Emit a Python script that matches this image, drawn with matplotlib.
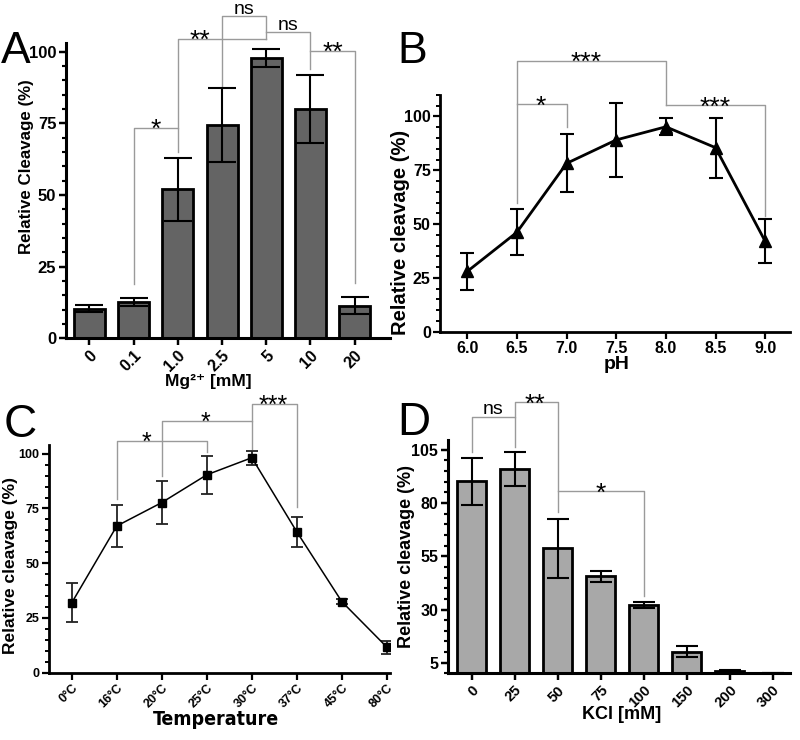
import numpy as np
import matplotlib
matplotlib.use('Agg')
import matplotlib.pyplot as plt
from matplotlib.ticker import MultipleLocator
from matplotlib import font_manager

# A: Mg2+ concentration
mg_labels = ['0', '0.1', '1.0', '2.5', '5', '10', '20']
mg_mean = [10.3, 12.7, 52.0, 74.5, 97.8, 80.0, 11.4]
mg_err = [1.2, 1.5, 11.0, 13.0, 3.2, 12.0, 3.0]

# B: pH
ph_values = [6.0, 6.5, 7.0, 7.5, 8.0, 8.5, 9.0]
ph_mean = [28.0, 46.2, 78.2, 89.1, 95.2, 85.5, 42.0]
ph_err = [8.6, 10.7, 13.5, 17.0, 4.0, 14.0, 10.3]

# C: temperature
temp_labels = ['0°C', '16°C', '20°C', '25°C', '30°C', '37°C', '45°C', '80°C']
temp_mean = [31.9, 67.0, 77.7, 90.4, 98.2, 64.3, 32.4, 11.6]
temp_err = [8.8, 9.8, 9.8, 8.7, 3.2, 7.0, 1.0, 3.0]

# D: KCl concentration
kcl_labels = ['0', '25', '50', '75', '100', '150', '200', '300']
kcl_mean = [90.2, 96.0, 58.7, 45.5, 32.0, 10.2, 1.1, 0.0]
kcl_err = [11.0, 8.0, 13.7, 2.4, 1.3, 2.7, 0.3, 0.0]

# significance brackets: x_left, x_right, y_top, y_left_end, y_right_end, label, label_x
mg_sig = [(1, 2, 73.5, 19.0, 65.0, '*', 1.5),
          (2, 4, 104.5, 73.5, 104.5, '**', 2.5),
          (3, 4, 112.4, 88.0, 104.5, 'ns', 3.5),
          (4, 5, 107.0, 107.0, 93.9, 'ns', 4.5),
          (5, 6, 100.3, 100.3, 19.3, '**', 5.5)]
ph_sig = [(6.5, 8.0, 126.0, 59.9, 105.3, '***', 7.2),
          (6.5, 7.0, 105.8, 105.8, 94.9, '*', 6.74),
          (8.0, 9.0, 105.3, 105.3, 53.7, '***', 8.5)]
temp_sig = [(1, 3, 106.0, 79.5, 100.8, '*', 1.67),
            (2, 4, 114.9, 90.0, 102.3, '*', 2.96),
            (4, 5, 122.8, 114.9, 75.7, '***', 4.48)]
kcl_sig = [(0, 1, 120.5, 104.0, 106.0, 'ns', 0.5),
           (1, 2, 127.2, 120.5, 75.6, '**', 1.46),
           (2, 4, 85.5, 85.5, 36.2, '*', 3.0)]

plt.rcParams['font.family'] = ['Liberation Sans', 'DejaVu Sans']
plt.rcParams['font.weight'] = 'bold'
plt.rcParams['axes.labelweight'] = 'bold'

fonts = font_manager.fontManager.ttflist
narrow = any(f.name == 'Liberation Sans Narrow' for f in fonts)
condensed = any(f.name == 'DejaVu Sans' and f.stretch == 'condensed' for f in fonts)


def style_axis(ax, lw, tick_size):
    for s in ['top', 'right']:
        ax.spines[s].set_visible(False)
    for s in ['left', 'bottom']:
        ax.spines[s].set_linewidth(lw)
    ax.tick_params(axis='both', which='major', width=lw * 0.8, length=5,
                   labelsize=tick_size, pad=2)
    ax.tick_params(axis='y', which='minor', width=lw * 0.7, length=3)
    ax.tick_params(axis='x', which='minor', bottom=False)


def brackets(ax, items, star_size=19, ns_size=14):
    for x1, x2, top, y1, y2, label, lx in items:
        ax.plot([x1, x1, x2, x2], [y1, top, top, y2], color='#9a9a9a', lw=1,
                clip_on=False, zorder=1)
        if '*' in label:
            fs, dy = star_size, 1.5 - 0.44 * star_size
        else:
            fs, dy = ns_size, 1.5
        ax.annotate(label, (lx, top), xytext=(0, dy), textcoords='offset points',
                    ha='center', va='baseline', fontsize=fs, fontweight='normal',
                    annotation_clip=False)


fig = plt.figure(figsize=(8, 7.4), dpi=100)

# ---- A ----
ax1 = fig.add_axes([0.0825, 0.5428, 0.405, 0.399])
xa = np.arange(len(mg_labels))
ax1.bar(xa, mg_mean, width=0.7, color='#646464', edgecolor='black', linewidth=2, zorder=2)
ax1.errorbar(xa, mg_mean, yerr=mg_err, fmt='none', ecolor='black', elinewidth=1.5,
             capsize=10, capthick=1.5, zorder=3)
ax1.set_xlim(-0.53, 6.8)
ax1.set_ylim(0, 103)
ax1.set_xticks(xa)
ax1.set_xticklabels(mg_labels, rotation=45, ha='right', rotation_mode='anchor')
ax1.yaxis.set_major_locator(MultipleLocator(25))
ax1.yaxis.set_minor_locator(MultipleLocator(5))
style_axis(ax1, 2.2, 12)
ax1.tick_params(axis='x', labelsize=11.5)
ax1.set_ylabel('Relative Cleavage (%)', fontsize=12.2)
ax1.yaxis.set_label_coords(-0.1, 0.583)
ax1.set_xlabel('Mg²⁺ [mM]', fontsize=12.5)
ax1.xaxis.set_label_coords(0.438, -0.12)
brackets(ax1, mg_sig)

# ---- B ----
ax2 = fig.add_axes([0.5506, 0.5518, 0.4369, 0.3199])
ax2.errorbar(ph_values, ph_mean, yerr=ph_err, color='black', lw=2, marker='^',
             markersize=8, elinewidth=1.5, capsize=5, capthick=1.5, zorder=3)
ax2.set_xlim(5.73, 9.25)
ax2.set_ylim(0, 110)
ax2.set_xticks(ph_values)
ax2.set_xticklabels([f'{v:.1f}' for v in ph_values])
ax2.yaxis.set_major_locator(MultipleLocator(25))
ax2.yaxis.set_minor_locator(MultipleLocator(5))
style_axis(ax2, 2.0, 11.5)
ax2.set_ylabel('Relative cleavage (%)', fontsize=14.5)
ax2.yaxis.set_label_coords(-0.087, 0.42)
ax2.set_xlabel('pH', fontsize=14)
ax2.xaxis.set_label_coords(0.504, -0.102)
brackets(ax2, ph_sig)

# ---- C ----
ax3 = fig.add_axes([0.0616, 0.0912, 0.4259, 0.3074])
xc = np.arange(len(temp_labels))
ax3.errorbar(xc, temp_mean, yerr=temp_err, color='black', lw=1.1, marker='s',
             markersize=6, elinewidth=1.3, ecolor='#222222', capsize=4, capthick=1.3, zorder=3)
ax3.set_xlim(-0.5, 7.07)
ax3.set_ylim(0, 104)
ax3.set_xticks(xc)
ax3.set_xticklabels(temp_labels, rotation=45, ha='right', rotation_mode='anchor')
ax3.yaxis.set_major_locator(MultipleLocator(25))
ax3.yaxis.set_minor_locator(MultipleLocator(5))
style_axis(ax3, 2.0, 9)
ax3.set_ylabel('Relative cleavage (%)', fontsize=12.5)
ax3.yaxis.set_label_coords(-0.093, 0.47)
if narrow:
    ax3.set_xlabel('Temperature', fontsize=16,
                   family=['Liberation Sans Narrow', 'DejaVu Sans'])
elif condensed:
    ax3.set_xlabel('Temperature', fontsize=14, family='DejaVu Sans',
                   fontstretch='condensed')
else:
    ax3.set_xlabel('Temperature', fontsize=13.5)
ax3.xaxis.set_label_coords(0.49, -0.165)
brackets(ax3, temp_sig, star_size=18)

# ---- D ----
ax4 = fig.add_axes([0.56, 0.0899, 0.4275, 0.3155])
xd = np.arange(len(kcl_labels))
ax4.bar(xd, kcl_mean, width=0.67, color='#a8a8a8', edgecolor='black', linewidth=2, zorder=2)
ax4.errorbar(xd, kcl_mean, yerr=kcl_err, fmt='none', ecolor='black', elinewidth=1.5,
             capsize=8, capthick=1.5, zorder=3)
ax4.set_xlim(-0.55, 7.4)
ax4.set_ylim(0, 109.5)
ax4.set_xticks(xd)
ax4.set_xticklabels(kcl_labels, rotation=45, ha='right', rotation_mode='anchor')
ax4.set_yticks([5, 30, 55, 80, 105])
ax4.yaxis.set_minor_locator(MultipleLocator(5))
style_axis(ax4, 2.2, 11.5)
ax4.tick_params(axis='x', labelsize=10.5)
ax4.set_ylabel('Relative cleavage (%)', fontsize=13)
ax4.yaxis.set_label_coords(-0.096, 0.5)
ax4.set_xlabel('KCl [mM]', fontsize=13)
ax4.xaxis.set_label_coords(0.508, -0.14)
brackets(ax4, kcl_sig)

# panel letters
fig.text(0.001, 0.915, 'A', fontsize=32, fontweight='normal', va='baseline')
fig.text(0.497, 0.915, 'B', fontsize=32, fontweight='normal', va='baseline')
fig.text(0.004, 0.41, 'C', fontsize=33, fontweight='normal', va='baseline')
fig.text(0.496, 0.412, 'D', fontsize=33, fontweight='normal', va='baseline')

fig.savefig('out.png', dpi=100)
